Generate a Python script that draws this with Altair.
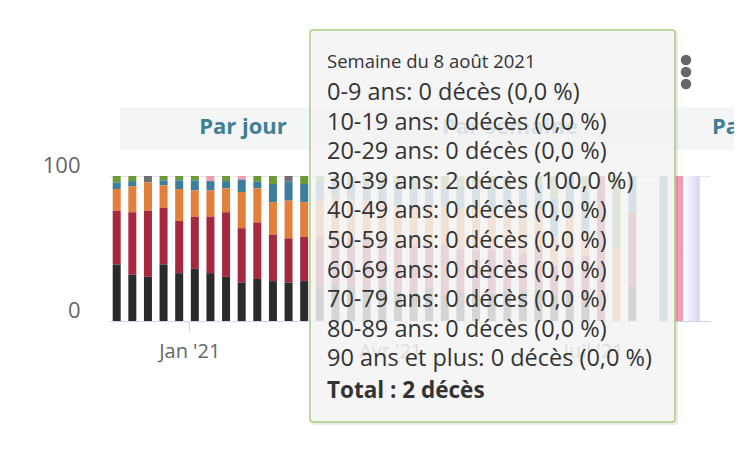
import altair as alt
import pandas as pd

# --- DATA ---
weeks = pd.date_range("2020-11-29 12:00", periods=37, freq="7D")
groups = ["0-9 ans", "10-19 ans", "20-29 ans", "30-39 ans", "40-49 ans",
          "50-59 ans", "60-69 ans", "70-79 ans", "80-89 ans", "90 ans et plus"]
colors = ["#f2c94c", "#9b59b6", "#5dade2", "#f29cb4", "#6f6f6f",
          "#6c9a38", "#3d7e9c", "#e0803b", "#a6283f", "#2b2b2b"]

# share of deaths per week (%)
p0 = [0] * 37
p10 = [0] * 37
p20 = [0] * 37
p30 = [0, 0, 0, 0, 0, 0, 3.5, 0, 2.5, 0, 0, 0, 0] + [0] * 23 + [100]
p40 = [0, 0, 4.5, 0, 0, 0, 0, 0, 0, 0, 0, 4, 0] + [0] * 12 + [4, 0] + [0] * 10
p50 = [4.5, 3.5, 0, 3, 3, 3, 0, 3.5, 0, 4, 5.5, 0, 5.5,
       4, 4, 4, 5, 5, 6, 7, 6, 8, 7, 7, 8, 6, 8,
       6, 15, 0, 10, 0, 50, 0, 0, 0, 0]
p60 = [4.5, 3.5, 0, 3.5, 6, 7, 6.5, 5, 8.5, 4.5, 12.5, 13, 12.5,
       12, 11, 12, 12, 13, 15, 15, 15, 14, 16, 16, 17, 15, 17,
       17, 27, 28, 30, 0, 0, 26, 0, 100, 0]
p70 = [15, 18, 19.5, 15.5, 22, 18, 18, 16.5, 25, 23.5, 22.5, 26, 24,
       26, 28, 27, 26, 28, 28, 26, 28, 25, 27, 28, 26, 25, 28,
       25, 20, 28, 15, 0, 50, 0, 0, 0, 0]
p80 = [37, 43, 45.5, 39, 36, 36, 39, 44.5, 37.5, 39, 32, 30.5, 30.5,
       34, 31, 33, 35, 30, 30, 32, 28, 35, 30, 27, 30, 28, 27,
       30, 20, 25, 25, 100, 0, 50, 0, 0, 0]
p90 = [39, 32, 30.5, 39, 33, 36, 33, 30.5, 26.5, 29, 27.5, 26.5, 27.5,
       24, 26, 24, 22, 24, 21, 20, 23, 18, 20, 22, 19, 22, 20,
       22, 18, 19, 20, 0, 0, 24, 0, 0, 0]
shares = [p0, p10, p20, p30, p40, p50, p60, p70, p80, p90]

# tooltip: week of 8 Aug 2021
tooltip_title = "Semaine du 8 août 2021"
last_week_deaths = [0, 0, 0, 2, 0, 0, 0, 0, 0, 0]

month_names = ["Jan", "Fév", "Mar", "Avr", "Mai", "Juin",
               "Juil", "Août", "Sep", "Oct", "Nov", "Déc"]
buttons = ["Par jour", "Par semaine", "Par mois"]
band = ["2021-08-10 07:00", "2021-08-17 18:00"]

# --- BUILD TABLE ---
rows = []
for gi, (g, vals) in enumerate(zip(groups, shares)):
    for w, v in zip(weeks, vals):
        if v > 0:
            rows.append({"week": w, "group": g, "share": v, "rank": 9 - gi})
df = pd.DataFrame(rows)

total = sum(last_week_deaths)
body_lines = [
    f"{g}: {c} décès ({100 * c / total:.1f} %)".replace(".", ",")
    for g, c in zip(groups, last_week_deaths)
]
total_line = f"Total : {total} décès"

FONT = "Open Sans"
one = pd.DataFrame({"k": [0]})

x_enc = alt.X(
    "week:T",
    title=None,
    scale=alt.Scale(domain=[alt.DateTime(year=2020, month=11, date=28, hours=7),
                            alt.DateTime(year=2021, month=8, date=20, hours=2)]),
    axis=alt.Axis(
        values=[alt.DateTime(year=2021, month=1, date=1),
                alt.DateTime(year=2021, month=4, date=1),
                alt.DateTime(year=2021, month=7, date=1)],
        labelExpr=f"{month_names}[month(datum.value)] + \" '\" + timeFormat(datum.value, '%y')",
        grid=False, tickSize=10, tickColor="#ccd6eb", domainColor="#ccd6eb",
        labelColor="#666666", labelFontSize=20, labelFont=FONT, labelPadding=10
    )
)

band_df = pd.DataFrame({"start": [pd.Timestamp(band[0])], "end": [pd.Timestamp(band[1])]})
band_layer = alt.Chart(band_df).mark_rect(
    color=alt.Gradient(
        gradient="linear",
        stops=[alt.GradientStop(color="#ffffff", offset=0),
               alt.GradientStop(color="#d4d4f5", offset=1)],
        x1=0, y1=0, x2=1, y2=0
    )
).encode(x="start:T", x2="end:T", y=alt.value(0), y2=alt.value(145))

bars = alt.Chart(df).mark_bar(size=8).encode(
    x=x_enc,
    y=alt.Y(
        "share:Q", stack="normalize", title=None,
        scale=alt.Scale(domain=[0, 1]),
        axis=alt.Axis(values=[0, 1], labelExpr="datum.value * 100",
                      grid=True, gridColor="#e6e6e6", domain=False, ticks=False,
                      labelPadding=29, labelFontSize=22, labelFont=FONT,
                      labelColor="#666666", labelBaseline="alphabetic", labelOffset=-4)
    ),
    color=alt.Color("group:N", scale=alt.Scale(domain=groups, range=colors), legend=None),
    order=alt.Order("rank:Q")
)

# button bar above the chart
button_bg = alt.Chart(one).mark_rect(color="#f4f5f5").encode(
    x=alt.value(11), x2=alt.value(625), y=alt.value(-69), y2=alt.value(-26)
)
button_text = [
    alt.Chart(one).mark_text(align=al, baseline="middle", font=FONT, fontSize=22,
                             fontWeight="bold", color="#3f7f94").encode(
        x=alt.value(px), y=alt.value(-49), text=alt.value(t))
    for t, px, al in zip(buttons, [134, 401, 603], ["center", "center", "left"])
]

dots = [
    alt.Chart(one).mark_circle(size=110, color="#666666", opacity=1).encode(
        x=alt.value(577), y=alt.value(py))
    for py in [-116, -104, -92]
]

# tooltip box
shadow = alt.Chart(one).mark_rect(color="#000000", opacity=0.08, cornerRadius=3).encode(
    x=alt.value(203), x2=alt.value(569), y=alt.value(-144), y2=alt.value(249)
)
box = alt.Chart(one).mark_rect(fill="#f7f7f7", fillOpacity=0.84, stroke="#a9cd80",
                               strokeWidth=1.5, cornerRadius=3).encode(
    x=alt.value(201), x2=alt.value(566), y=alt.value(-146), y2=alt.value(246)
)
head = alt.Chart(one).mark_text(align="left", baseline="alphabetic", font=FONT,
                                fontSize=18.5, color="#333333").encode(
    x=alt.value(218), y=alt.value(-108), text=alt.value(tooltip_title)
)
body = alt.Chart(one).mark_text(align="left", baseline="alphabetic", font=FONT,
                                fontSize=23.5, color="#333333", lineBreak="\n",
                                lineHeight=29.6).encode(
    x=alt.value(218), y=alt.value(-76), text=alt.value("\n".join(body_lines))
)
foot = alt.Chart(one).mark_text(align="left", baseline="alphabetic", font=FONT,
                                fontSize=22.5, fontWeight="bold", color="#333333").encode(
    x=alt.value(218), y=alt.value(222), text=alt.value(total_line)
)

chart = alt.layer(
    band_layer, bars, button_bg, *button_text, *dots, shadow, box, head, body, foot
).properties(
    width=601, height=145,
    autosize=alt.AutoSizeParams(type="none"),
    padding={"left": 101, "top": 168, "right": 24, "bottom": 123}
).configure_view(stroke=None)

chart.save("out.html", embed_options={"renderer": "svg", "actions": False})
